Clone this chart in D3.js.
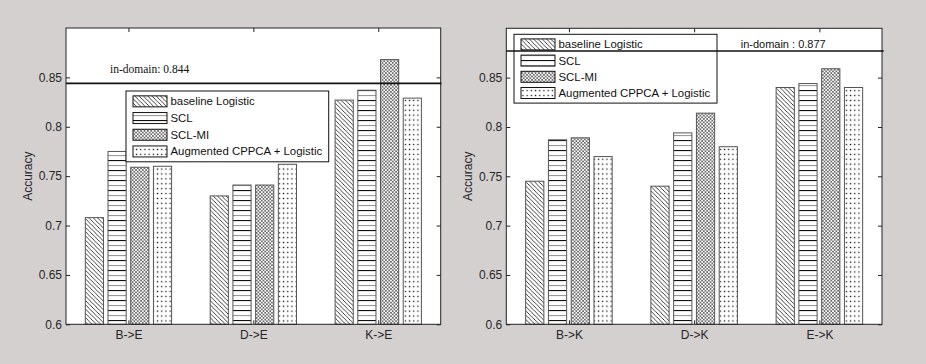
<!DOCTYPE html>
<html>
<head>
<meta charset="utf-8">
<script src="https://cdn.jsdelivr.net/npm/d3@7"></script>
<style>
  html, body { margin: 0; padding: 0; background: #d4d0d0; }
  svg { display: block; }
  .tick text { font-family: "Liberation Sans", Arial, sans-serif; fill: #262626; }
</style>
</head>
<body>
<svg id="fig" width="926" height="364"></svg>
<script>
// ---- data -------------------------------------------------------------
const seriesNames = ["baseline Logistic", "SCL", "SCL-MI", "Augmented CPPCA + Logistic"];
const patternIds = ["hatchDiag", "hatchHoriz", "hatchCross", "hatchDots"];

const tasksE = ["B->E", "D->E", "K->E"];
const baselineE = [0.708, 0.730, 0.827];
const sclE = [0.775, 0.741, 0.837];
const sclMiE = [0.759, 0.741, 0.868];
const augmentedE = [0.760, 0.762, 0.829];
const inDomainE = 0.844;

const tasksK = ["B->K", "D->K", "E->K"];
const baselineK = [0.745, 0.740, 0.840];
const sclK = [0.787, 0.794, 0.844];
const sclMiK = [0.789, 0.814, 0.859];
const augmentedK = [0.770, 0.780, 0.840];
const inDomainK = 0.877;

const yTicks = [0.6, 0.65, 0.7, 0.75, 0.8, 0.85];
const yDomain = [0.6, 0.9];

// ---- fill patterns ----------------------------------------------------
const svg = d3.select("#fig");
const defs = svg.append("defs");

const pDiag = defs.append("pattern").attr("id", "hatchDiag")
  .attr("patternUnits", "userSpaceOnUse").attr("width", 4.3).attr("height", 4.3);
pDiag.append("rect").attr("width", 4.3).attr("height", 4.3).attr("fill", "#fff");
pDiag.append("path").attr("d", "M-1,-1 L5.3,5.3 M-1,3.3 L1,5.3 M3.3,-1 L5.3,1")
  .attr("stroke", "#111").attr("stroke-width", 0.8);

const pHoriz = defs.append("pattern").attr("id", "hatchHoriz")
  .attr("patternUnits", "userSpaceOnUse").attr("width", 10).attr("height", 10);
pHoriz.append("rect").attr("width", 10).attr("height", 10).attr("fill", "#fff");
pHoriz.append("rect").attr("y", 0).attr("width", 10).attr("height", 1.1).attr("fill", "#111");
pHoriz.append("rect").attr("y", 5).attr("width", 10).attr("height", 1.1).attr("fill", "#999");

const pCross = defs.append("pattern").attr("id", "hatchCross")
  .attr("patternUnits", "userSpaceOnUse").attr("width", 3.4).attr("height", 3.4);
pCross.append("rect").attr("width", 3.4).attr("height", 3.4).attr("fill", "#fff");
pCross.append("path").attr("d", "M0,0 L3.4,3.4 M3.4,0 L0,3.4")
  .attr("stroke", "#555").attr("stroke-width", 0.75);

const pDots = defs.append("pattern").attr("id", "hatchDots")
  .attr("patternUnits", "userSpaceOnUse").attr("width", 4.2).attr("height", 4.9);
pDots.append("rect").attr("width", 4.2).attr("height", 4.9).attr("fill", "#fff");
pDots.append("rect").attr("x", 1.5).attr("y", 1.8).attr("width", 1.3).attr("height", 1.3).attr("fill", "#111");

// ---- one bar-chart panel ---------------------------------------------
function panel(opt) {
  const { left, right, top, bottom, tasks, series, inDomain } = opt;
  const g = svg.append("g");
  const x = d3.scaleLinear().domain([0.5, tasks.length + 0.5]).range([left, right]);
  const y = d3.scaleLinear().domain(yDomain).range([bottom, top]);

  g.append("rect").attr("x", left).attr("y", top)
    .attr("width", right - left).attr("height", bottom - top).attr("fill", "#fff");

  // grouped bars
  const nSeries = series.length;
  const groupWidth = Math.min(0.8, nSeries / (nSeries + 1.5));
  const step = groupWidth / nSeries;
  const barW = step * 0.8;
  series.forEach((vals, si) => {
    g.selectAll(null).data(vals).enter().append("rect")
      .attr("x", (d, i) => x(i + 1 + (si - (nSeries - 1) / 2) * step - barW / 2))
      .attr("width", x(barW) - x(0))
      .attr("y", d => y(d))
      .attr("height", d => y(yDomain[0]) - y(d))
      .attr("fill", `url(#${patternIds[si]})`)
      .attr("stroke", "#555").attr("stroke-width", 1);
  });

  // axes with inward ticks on all four sides
  const tickPos = tasks.map((t, i) => i + 1);
  const xb = d3.axisBottom(x).tickValues(tickPos).tickFormat((d, i) => tasks[i])
    .tickSizeInner(-4).tickSizeOuter(0).tickPadding(6);
  const xt = d3.axisTop(x).tickValues(tickPos).tickFormat("")
    .tickSizeInner(-4).tickSizeOuter(0);
  const yl = d3.axisLeft(y).tickValues(yTicks).tickFormat(d3.format("~g"))
    .tickSizeInner(-4).tickSizeOuter(0).tickPadding(4);
  const yr = d3.axisRight(y).tickValues(yTicks).tickFormat("")
    .tickSizeInner(-4).tickSizeOuter(0);

  const axB = g.append("g").attr("transform", `translate(0,${bottom})`).call(xb);
  const axT = g.append("g").attr("transform", `translate(0,${top})`).call(xt);
  const axL = g.append("g").attr("transform", `translate(${left},0)`).call(yl);
  const axR = g.append("g").attr("transform", `translate(${right},0)`).call(yr);
  [axB, axT, axL, axR].forEach(a => {
    a.select(".domain").remove();
    a.selectAll(".tick line").attr("stroke", "#222");
    a.selectAll(".tick text").attr("font-size", 12);
  });

  // box frame
  g.append("rect").attr("x", left).attr("y", top)
    .attr("width", right - left).attr("height", bottom - top)
    .attr("fill", "none").attr("stroke", "#222").attr("stroke-width", 1);

  // y label
  g.append("text")
    .attr("transform", `translate(${opt.ylabelX},${(top + bottom) / 2}) rotate(-90)`)
    .attr("text-anchor", "middle").attr("dominant-baseline", "central")
    .attr("font-family", "Liberation Sans, Arial, sans-serif").attr("font-size", 12)
    .attr("fill", "#262626").text("Accuracy");

  return { g, x, y };
}

function legend(g, lx, ly, w, rowH) {
  const h = rowH * seriesNames.length + 4;
  g.append("rect").attr("x", lx).attr("y", ly).attr("width", w).attr("height", h)
    .attr("fill", "#fff").attr("stroke", "#111").attr("stroke-width", 1);
  seriesNames.forEach((name, i) => {
    const cy = ly + 2 + rowH * (i + 0.5);
    g.append("rect").attr("x", lx + 7).attr("y", cy - 5.5).attr("width", 34).attr("height", 11)
      .attr("fill", `url(#${patternIds[i]})`).attr("stroke", "#111").attr("stroke-width", 1);
    g.append("text").attr("x", lx + 44.5).attr("y", cy).attr("dominant-baseline", "central")
      .attr("font-family", "Liberation Sans, Arial, sans-serif").attr("font-size", 11.4)
      .attr("fill", "#111").text(name);
  });
}

// ---- left panel: target domain E -------------------------------------
const pE = panel({
  left: 66, right: 440.7, top: 28, bottom: 324.3,
  tasks: tasksE, series: [baselineE, sclE, sclMiE, augmentedE],
  inDomain: inDomainE, ylabelX: 28
});
pE.g.append("line").attr("x1", 66).attr("x2", 441.5)
  .attr("y1", pE.y(inDomainE)).attr("y2", pE.y(inDomainE))
  .attr("stroke", "#111").attr("stroke-width", 1.7);
pE.g.append("text").attr("x", 110).attr("y", pE.y(inDomainE) - 10)
  .attr("font-family", "Liberation Serif, Times New Roman, serif").attr("font-size", 11.5)
  .attr("fill", "#111").text("in-domain: " + inDomainE.toFixed(3));
legend(pE.g, 126, 91, 202.7, 16.7);

// ---- right panel: target domain K ------------------------------------
const pK = panel({
  left: 506.3, right: 882, top: 28.3, bottom: 324.3,
  tasks: tasksK, series: [baselineK, sclK, sclMiK, augmentedK],
  inDomain: inDomainK, ylabelX: 468
});
legend(pK.g, 514, 34.3, 203, 16.2);
pK.g.append("line").attr("x1", 506.3).attr("x2", 883.7)
  .attr("y1", pK.y(inDomainK)).attr("y2", pK.y(inDomainK))
  .attr("stroke", "#111").attr("stroke-width", 1.7);
pK.g.append("text").attr("x", 740.7).attr("y", 44.3).attr("dominant-baseline", "central")
  .attr("font-family", "Liberation Sans, Arial, sans-serif").attr("font-size", 11)
  .attr("fill", "#111").text("in-domain : " + inDomainK.toFixed(3));
</script>
</body>
</html>
